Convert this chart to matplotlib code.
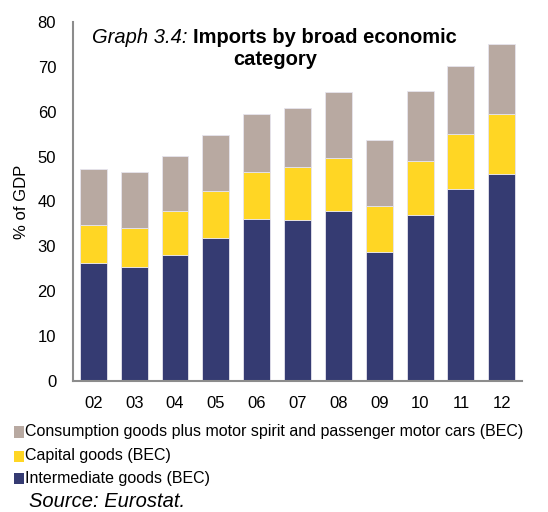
import matplotlib.pyplot as plt
from matplotlib.patches import Rectangle
import numpy as np

plt.rcParams["font.family"] = ["Liberation Sans", "DejaVu Sans"]

years = ["02", "03", "04", "05", "06", "07", "08", "09", "10", "11", "12"]
intermediate = [26.3, 25.5, 28.1, 31.8, 36.1, 35.9, 37.9, 28.8, 37.0, 42.8, 46.1]
capital = [8.4, 8.6, 9.7, 10.5, 10.4, 11.8, 11.9, 10.2, 12.1, 12.2, 13.5]
consumption = [12.6, 12.4, 12.4, 12.6, 13.1, 13.2, 14.7, 14.7, 15.6, 15.1, 15.4]

labels = [
    "Consumption goods plus motor spirit and passenger motor cars (BEC)",
    "Capital goods (BEC)",
    "Intermediate goods (BEC)",
]
colors = ["#B8A9A1", "#FFD624", "#353B72"]

fig = plt.figure(figsize=(5.48, 5.12), dpi=100)
ax = fig.add_axes([0.133, 0.256, 0.82, 0.701])

x = np.arange(len(years))
w = 0.66
edge = dict(edgecolor="#E6E4EE", linewidth=0.6)
ax.bar(x, intermediate, w, color=colors[2], **edge)
ax.bar(x, capital, w, bottom=intermediate, color=colors[1], **edge)
base = np.array(intermediate) + np.array(capital)
ax.bar(x, consumption, w, bottom=base, color=colors[0], **edge)

ax.set_xlim(-0.5, 10.5)
ax.set_ylim(0, 80)
ax.set_yticks(range(0, 81, 10))
ax.set_xticks(x)
ax.set_xticklabels(years)
ax.tick_params(length=0, labelsize=12, colors="black")
ax.tick_params(axis="y", pad=12)
ax.tick_params(axis="x", pad=11)
for s in ["top", "right"]:
    ax.spines[s].set_visible(False)
for s in ["left", "bottom"]:
    ax.spines[s].set_color("#8C8C8C")
    ax.spines[s].set_linewidth(1.5)

ax.set_ylabel("% of GDP", fontsize=12, labelpad=6)

# title inside the plot area
fig.text(0.168, 0.926, "Graph 3.4:", fontsize=14.5, style="italic", va="center")
fig.text(0.353, 0.926, "Imports by broad economic", fontsize=14.5, weight="bold", va="center")
fig.text(0.503, 0.883, "category", fontsize=14.5, weight="bold", va="center", ha="center")

# legend below the axes
legend_y = [0.157, 0.110, 0.066]
for lab, col, yy in zip(labels, colors, legend_y):
    fig.patches.append(Rectangle((0.026, yy - 0.012), 0.017, 0.022, transform=fig.transFigure,
                                 facecolor=col, edgecolor="none"))
    fig.text(0.046, yy, lab, fontsize=11.5, va="center")

fig.text(0.053, 0.02, "Source: Eurostat.", fontsize=14.5, style="italic", va="center")

fig.savefig("out.png", dpi=100)
